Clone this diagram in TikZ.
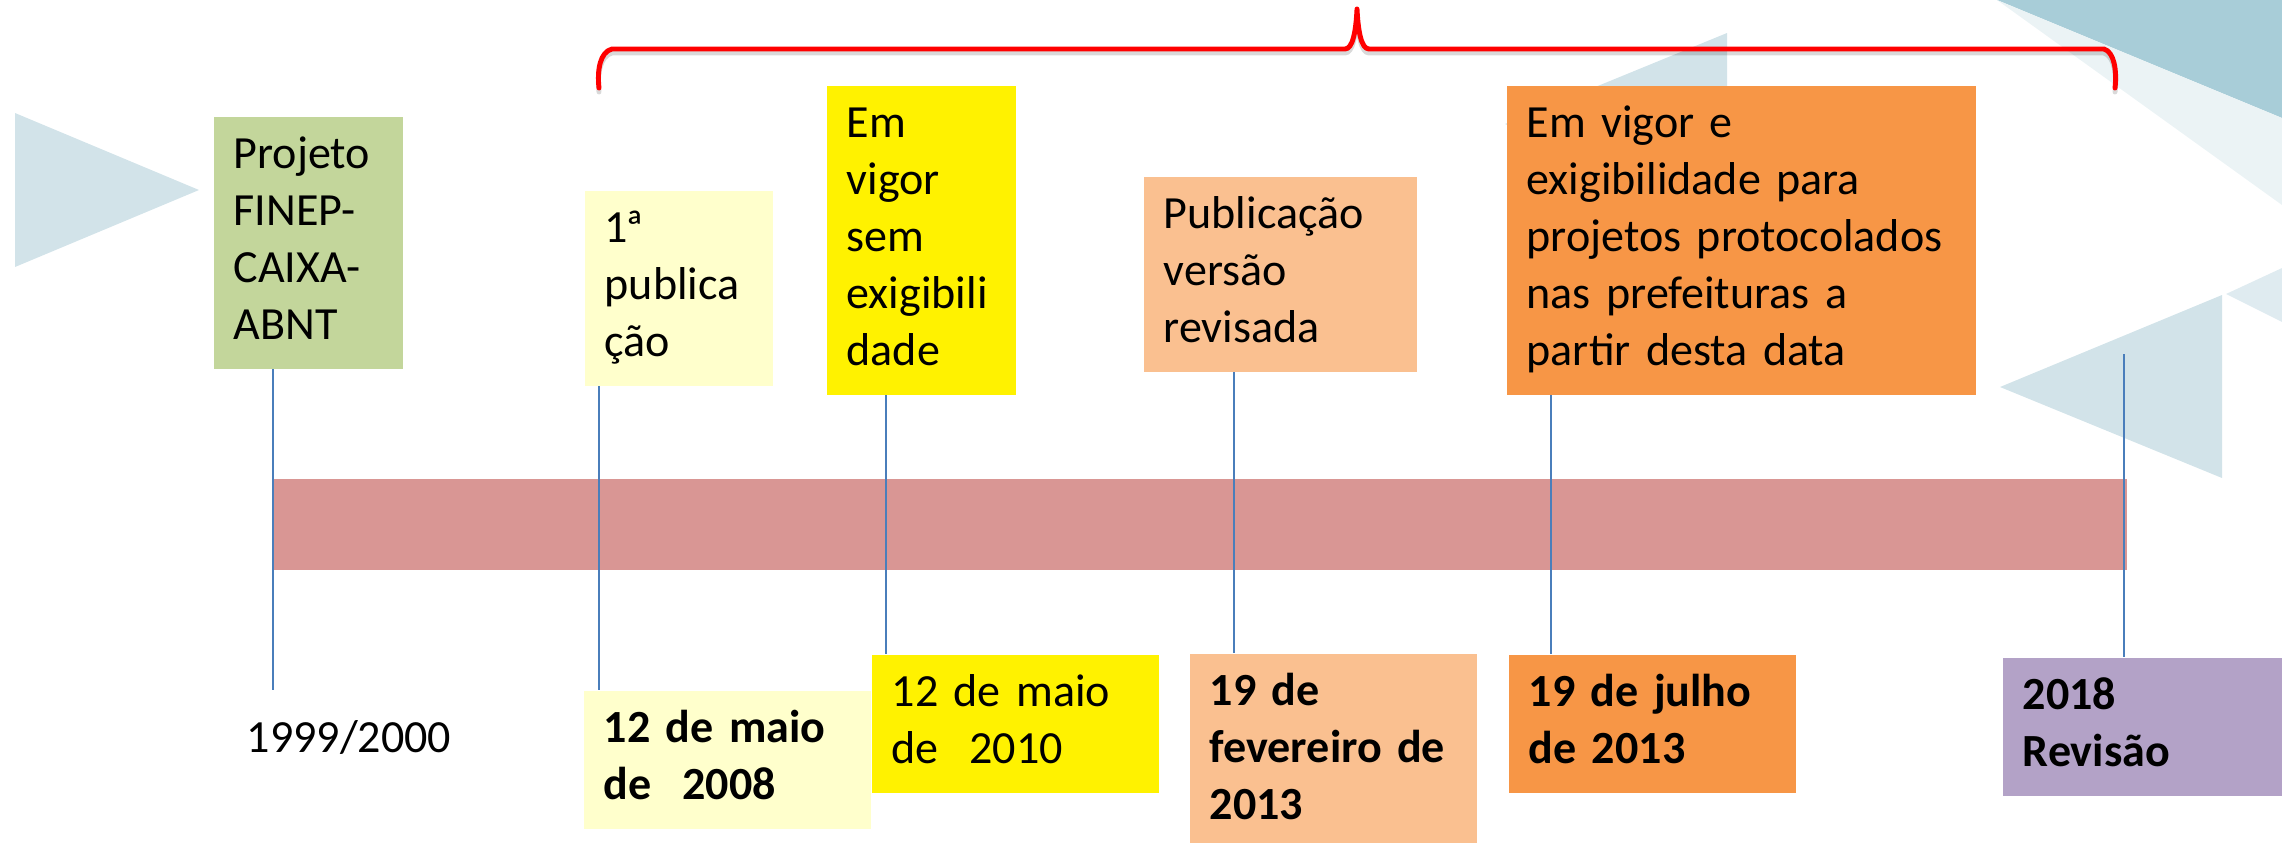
\documentclass[tikz,border=0pt]{standalone}
\usepackage{fontspec}
\setmainfont{Carlito}
\usepackage{xcolor}
\usetikzlibrary{positioning}

\definecolor{projgreen}{HTML}{C3D69B}
\definecolor{paleyellow}{HTML}{FFFFCC}
\definecolor{peach}{HTML}{FAC090}
\definecolor{tangerine}{HTML}{F79646}
\definecolor{lavender}{HTML}{B3A2C7}
\definecolor{barpink}{HTML}{D99694}
\definecolor{tickblue}{HTML}{4A7EBB}
\definecolor{bgpale}{HTML}{D2E3E9}
\definecolor{bgdark}{HTML}{A8CDD8}

\newcommand\eventfont{\fontsize{13.1pt}{16.2pt}\selectfont\hyphenpenalty=10000 }

\begin{document}
\begin{tikzpicture}[
    x=0.01cm, y=-0.01cm,
    event/.style={
        rectangle,
        anchor=north west,
        inner xsep=0.2cm,
        inner ysep=0.12cm,
        align=left,
        font=\eventfont,
        execute at begin node=\strut,
        execute at end node=\strut
    },
    datebox/.style={
        event,
        text width=2.47cm
    },
    bolddate/.style={
        datebox,
        font=\eventfont\bfseries
    },
    timebar/.style={
        rectangle,
        anchor=north west,
        inner sep=0pt,
        fill=barpink,
        minimum width=18.52cm,
        minimum height=0.91cm
    },
    tick/.style={
        draw=tickblue,
        line width=0.5pt
    },
    brace/.style={
        draw=red,
        line width=1.4pt,
        line join=round,
        line cap=round
    }
]

\useasboundingbox (0,0) rectangle (2282,842);

\fill[bgpale] (15,113) -- (15,267) -- (199,190) -- cycle;
\fill[bgpale] (1727,33) -- (1727,215) -- (1505,124) -- cycle;
\fill[bgdark] (1997,0) -- (2282,0) -- (2282,118) -- cycle;
\fill[bgpale!45] (1997,0) -- (2282,118) -- (2282,205) -- cycle;
\fill[bgpale] (2000,387) -- (2222,295) -- (2222,478) -- cycle;
\fill[bgpale!70] (2226,294) -- (2282,268) -- (2282,322) -- cycle;

\draw[brace, draw=black, opacity=0.15, yshift=-0.04cm] (599,88) .. controls (597,70) and (600,52) .. (612,49) -- (1345,49) .. controls (1353,49) and (1356,30) .. (1357,9) .. controls (1358,30) and (1361,49) .. (1369,49) -- (2104,49) .. controls (2114,52) and (2117,70) .. (2115,88);
\draw[brace] (599,88) .. controls (597,70) and (600,52) .. (612,49) -- (1345,49) .. controls (1353,49) and (1356,30) .. (1357,9) .. controls (1358,30) and (1361,49) .. (1369,49) -- (2104,49) .. controls (2114,52) and (2117,70) .. (2115,88);

\node[event, fill=projgreen, text width=1.49cm] (proj) at (213,116) {Projeto\\FINEP-\\CAIXA-\\ABNT};
\node[event, fill=paleyellow, text width=1.48cm] (pub1) at (584,190) {1\kern-0.06emª\\publica\\ção};
\node[event, fill=yellow, text width=1.49cm] (vigor) at (826,85) {Em\\vigor\\sem\\exigibili\\dade};
\node[event, fill=peach, text width=2.33cm] (revis) at (1143,176) {Publicação\\versão\\revisada};
\node[event, fill=tangerine, text width=4.29cm] (exig) at (1506,85) {Em~vigor~e\\exigibilidade~para\\projetos~protocolados\\nas~prefeituras~a\\partir~desta~data};

\node[timebar] (timeline) at (273,478) {};

\node[datebox] (d1999) at (226,700) {1999/2000};
\node[bolddate, fill=paleyellow] (d2008) at (583,690) {12 de maio\\de~~2008};
\node[datebox, fill=yellow] (d2010) at (871,654) {12 de maio\\de~~2010};
\node[bolddate, fill=peach] (d2013a) at (1189,653) {19 de\\fevereiro~de\\2013};
\node[bolddate, fill=tangerine] (d2013b) at (1508,654) {19 de julho\\de 2013};
\node[bolddate, fill=lavender] (d2018) at (2002,657) {2018\\Revisão};

\coordinate (t1) at (273,0);
\coordinate (t2) at (599,0);
\coordinate (t3) at (886,0);
\coordinate (t4) at (1234,0);
\coordinate (t5) at (1551,0);
\coordinate (revtop) at (2124,354);

\draw[tick, shorten >=0.1cm] (proj.south -| t1) -- (d1999.north -| t1);
\draw[tick] (pub1.south -| t2) -- (d2008.north -| t2);
\draw[tick] (vigor.south -| t3) -- (d2010.north -| t3);
\draw[tick] (revis.south -| t4) -- (d2013a.north -| t4);
\draw[tick] (exig.south -| t5) -- (d2013b.north -| t5);
\draw[tick] (revtop) -- (d2018.north -| revtop);

\end{tikzpicture}
\end{document}
